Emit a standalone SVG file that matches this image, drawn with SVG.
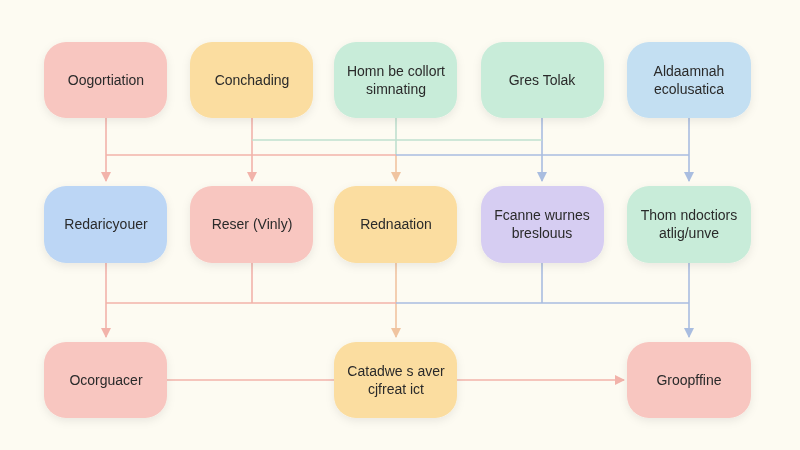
<svg xmlns="http://www.w3.org/2000/svg" width="800" height="450" viewBox="0 0 800 450">
<defs>
<marker id="ap" markerWidth="10" markerHeight="10" refX="9" refY="5" orient="auto" markerUnits="userSpaceOnUse"><path d="M0,0 L10,5 L0,10 z" fill="#f2b3aa"/></marker>
<marker id="ao" markerWidth="10" markerHeight="10" refX="9" refY="5" orient="auto" markerUnits="userSpaceOnUse"><path d="M0,0 L10,5 L0,10 z" fill="#f0c4a0"/></marker>
<marker id="ab" markerWidth="10" markerHeight="10" refX="9" refY="5" orient="auto" markerUnits="userSpaceOnUse"><path d="M0,0 L10,5 L0,10 z" fill="#a9bde0"/></marker>
<filter id="sh" x="-20%" y="-20%" width="140%" height="150%"><feDropShadow dx="0" dy="3" stdDeviation="4" flood-color="#000" flood-opacity="0.08"/></filter>
</defs>
<style>
text{font-family:"Liberation Sans",Arial,sans-serif;font-size:14px;fill:#2a2a2a;text-anchor:middle;dominant-baseline:central}
.n{filter:url(#sh)}
.c{fill:none;stroke-width:1.6}
.p{stroke:#f2b3aa}.g{stroke:#bfe0cf}.b{stroke:#a9bde0}.o{stroke:#f0c4a0}
.red{fill:#f8c6c0}.yel{fill:#fbdda0}.grn{fill:#c8ecd9}.blu{fill:#c3dff2}.blu2{fill:#bcd6f5}.pur{fill:#d6cdf2}
</style>
<rect width="800" height="450" fill="#fdfbf2"/>
<g id="connectors">
<path class="c p" d="M106,118 V181" marker-end="url(#ap)"/>
<path class="c p" d="M252,118 V181" marker-end="url(#ap)"/>
<path class="c g" d="M396,118 V155"/>
<path class="c o" d="M396,155 V181" marker-end="url(#ao)"/>
<path class="c b" d="M542,118 V181" marker-end="url(#ab)"/>
<path class="c b" d="M689,118 V181" marker-end="url(#ab)"/>
<path class="c p" d="M106,155 H396"/>
<path class="c b" d="M396,155 H689"/>
<path class="c g" d="M252,140 H542"/>
<path class="c p" d="M106,263 V337" marker-end="url(#ap)"/>
<path class="c p" d="M252,263 V303"/>
<path class="c o" d="M396,263 V337" marker-end="url(#ao)"/>
<path class="c b" d="M542,263 V303"/>
<path class="c b" d="M689,263 V337" marker-end="url(#ab)"/>
<path class="c p" d="M106,303 H396"/>
<path class="c b" d="M396,303 H689"/>
<path class="c p" d="M167,380 H334"/>
<path class="c p" d="M457,380 H624" marker-end="url(#ap)"/>
</g>
<g id="n1" class="n"><rect x="44" y="42" width="123" height="76" rx="22" class="red"/><text x="106" y="80">Oogortiation</text></g>
<g id="n2" class="n"><rect x="190" y="42" width="123" height="76" rx="22" class="yel"/><text x="252" y="80">Conchading</text></g>
<g id="n3" class="n"><rect x="334" y="42" width="123" height="76" rx="22" class="grn"/><text x="396" y="71" font-size="13">Homn be collort</text><text x="396" y="89" font-size="13">simnating</text></g>
<g id="n4" class="n"><rect x="481" y="42" width="123" height="76" rx="22" class="grn"/><text x="542" y="80">Gres Tolak</text></g>
<g id="n5" class="n"><rect x="627" y="42" width="124" height="76" rx="22" class="blu"/><text x="689" y="71" font-size="13">Aldaamnah</text><text x="689" y="89" font-size="13">ecolusatica</text></g>
<g id="n6" class="n"><rect x="44" y="186" width="123" height="77" rx="22" class="blu2"/><text x="106" y="224">Redaricyouer</text></g>
<g id="n7" class="n"><rect x="190" y="186" width="123" height="77" rx="22" class="red"/><text x="252" y="224">Reser (Vinly)</text></g>
<g id="n8" class="n"><rect x="334" y="186" width="123" height="77" rx="22" class="yel"/><text x="396" y="224">Rednaation</text></g>
<g id="n9" class="n"><rect x="481" y="186" width="123" height="77" rx="22" class="pur"/><text x="542" y="215" font-size="13">Fcanne wurnes</text><text x="542" y="233" font-size="13">breslouus</text></g>
<g id="n10" class="n"><rect x="627" y="186" width="124" height="77" rx="22" class="grn"/><text x="689" y="215" font-size="13">Thom ndoctiors</text><text x="689" y="233" font-size="13">atlig/unve</text></g>
<g id="n11" class="n"><rect x="44" y="342" width="123" height="76" rx="22" class="red"/><text x="106" y="380">Ocorguacer</text></g>
<g id="n12" class="n"><rect x="334" y="342" width="123" height="76" rx="22" class="yel"/><text x="396" y="371" font-size="13">Catadwe s aver</text><text x="396" y="389" font-size="13">cjfreat ict</text></g>
<g id="n13" class="n"><rect x="627" y="342" width="124" height="76" rx="22" class="red"/><text x="689" y="380">Groopffine</text></g>
</svg>
